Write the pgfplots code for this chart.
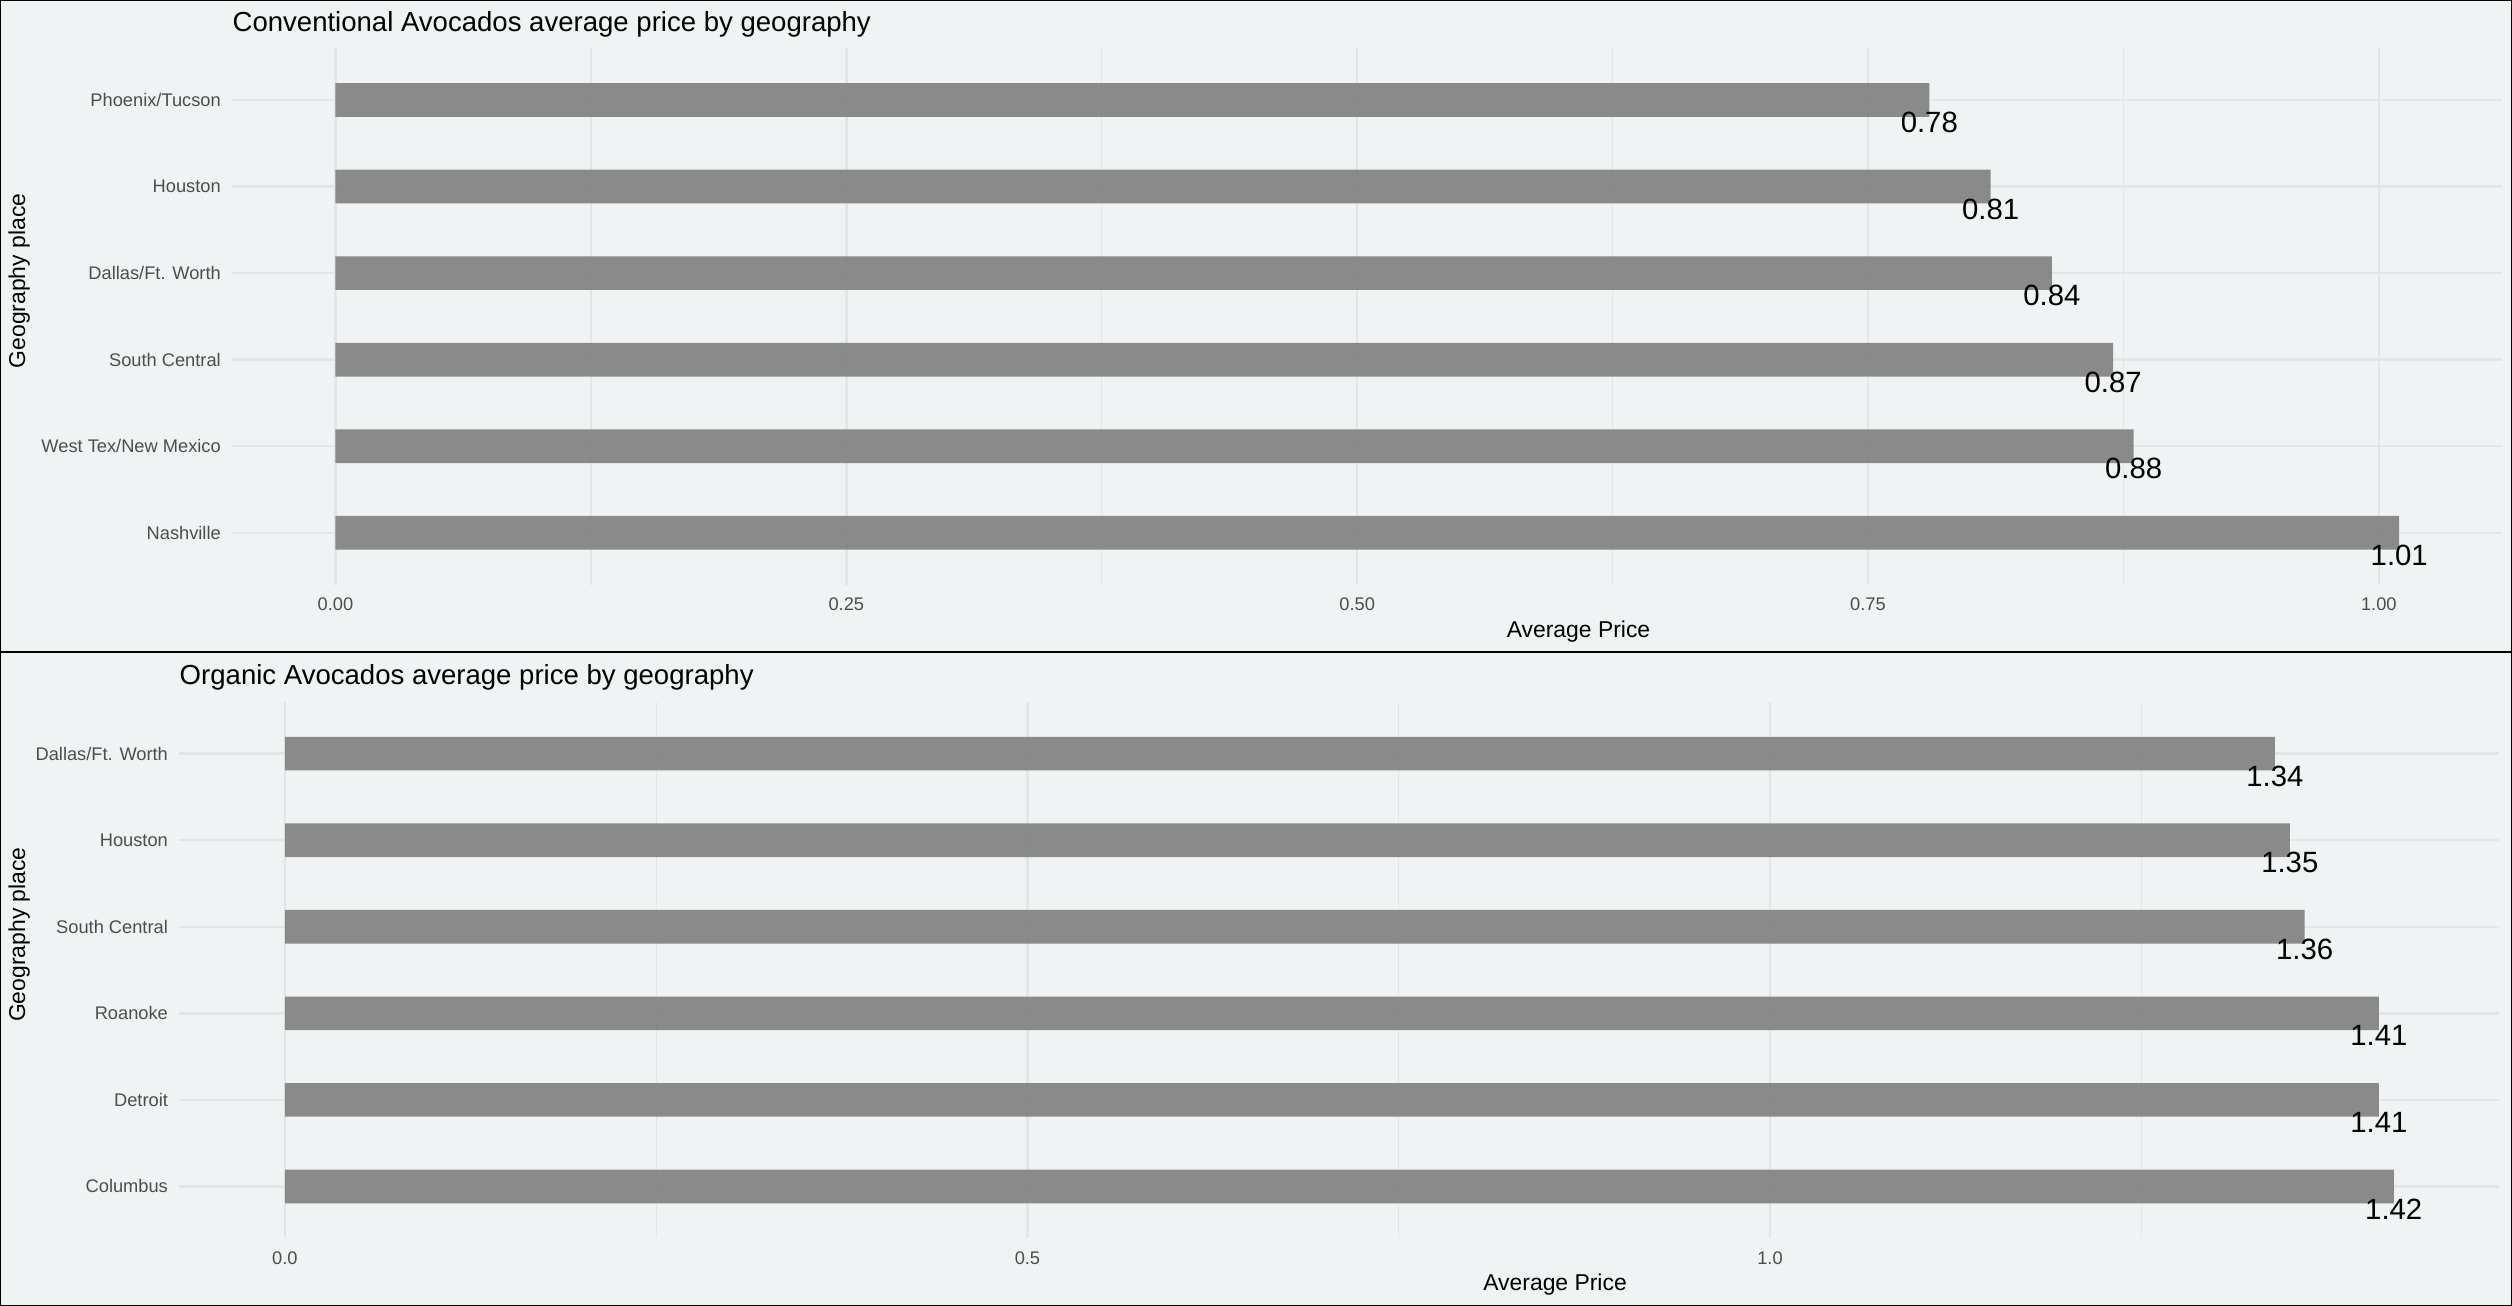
\documentclass[border=0pt]{standalone}
\usepackage{pgfplots}
\pgfplotsset{compat=1.18}
\usepackage{fontspec}
\setmainfont{Liberation Sans}
\definecolor{bgc}{HTML}{F0F3F4}
\definecolor{gridc}{HTML}{E3E6E7}
\definecolor{barc}{HTML}{7F7F7F}
\definecolor{tickc}{HTML}{4D4D4D}
\newcommand\fs[1]{\fontsize{#1}{#1}\selectfont}
\begin{document}
\begin{tikzpicture}
\useasboundingbox (0pt,0pt) rectangle (1568pt,815pt);
\fill[bgc] (0pt,0pt) rectangle (1568pt,815pt);
\pgfplotsset{
 common/.style={
  scale only axis, height=335pt,
  axis line style={draw=none}, tick style={draw=none},
  major tick length=0pt, minor tick length=0pt,
  ymin=0.4, ymax=6.6, ytick={1,2,3,4,5,6},
  xmajorgrids, xminorgrids, ymajorgrids,
  major grid style={gridc, line width=1.5pt},
  minor grid style={gridc, line width=0.8pt},
  xticklabel style={font=\fs{11.4}, text=tickc, inner sep=0pt, anchor=north, yshift=-7.9pt},
  yticklabel style={font=\fs{11.4}, text=tickc, inner sep=0pt, anchor=east, xshift=-7pt},
  xlabel={Average Price}, ylabel={Geography place},
  xlabel style={font=\fs{14.3}, at={(axis description cs:0.593,0)}, anchor=center, yshift=-29pt, inner sep=0pt},
  title style={font=\fs{17.2}, at={(axis description cs:0,1)}, anchor=west, yshift=9pt, inner sep=0pt},
  clip=false,
 },
 lab/.style={only marks, mark=none, nodes near coords, point meta=explicit symbolic,
   every node near coord/.style={font=\fs{18.3}, text=black, anchor=center, yshift=-14pt, inner sep=0pt}},
 bars/.style={xbar, bar width=21pt, fill=barc, fill opacity=0.9, draw=none},
}
\begin{axis}[common, at={(145pt,450pt)}, anchor=south west, width=1417pt,
  xmin=-0.0505, xmax=1.0605,
  xtick={0,0.25,0.5,0.75,1}, xticklabels={0.00,0.25,0.50,0.75,1.00},
  minor xtick={0.125,0.375,0.625,0.875},
  yticklabels={Nashville,West Tex/New Mexico,South Central,Dallas/Ft. Worth,Houston,Phoenix/Tucson},
  title={Conventional Avocados average price by geography},
  ylabel style={font=\fs{14.3}, at={(axis description cs:-0.0939,0.566)}, anchor=center, inner sep=0pt},
]
\addplot[bars] coordinates {(1.01,1) (0.88,2) (0.87,3) (0.84,4) (0.81,5) (0.78,6)};
\addplot[lab] table[x=x,y=y,meta=l] {
x y l
1.01 1 1.01
0.88 2 0.88
0.87 3 0.87
0.84 4 0.84
0.81 5 0.81
0.78 6 0.78
};
\end{axis}
\begin{axis}[common, at={(112pt,42pt)}, anchor=south west, width=1448pt,
  xmin=-0.071, xmax=1.491,
  xtick={0,0.5,1}, xticklabels={0.0,0.5,1.0},
  minor xtick={0.25,0.75,1.25},
  yticklabels={Columbus,Detroit,Roanoke,South Central,Houston,Dallas/Ft. Worth},
  title={Organic Avocados average price by geography},
  ylabel style={font=\fs{14.3}, at={(axis description cs:-0.0691,0.566)}, anchor=center, inner sep=0pt},
]
\addplot[bars] coordinates {(1.42,1) (1.41,2) (1.41,3) (1.36,4) (1.35,5) (1.34,6)};
\addplot[lab] table[x=x,y=y,meta=l] {
x y l
1.42 1 1.42
1.41 2 1.41
1.41 3 1.41
1.36 4 1.36
1.35 5 1.35
1.34 6 1.34
};
\end{axis}
\draw[black, line width=1.3pt] (0pt,408pt) rectangle (1568pt,815pt);
\draw[black, line width=1.3pt] (0pt,0pt) rectangle (1568pt,408pt);
\end{tikzpicture}
\end{document}
